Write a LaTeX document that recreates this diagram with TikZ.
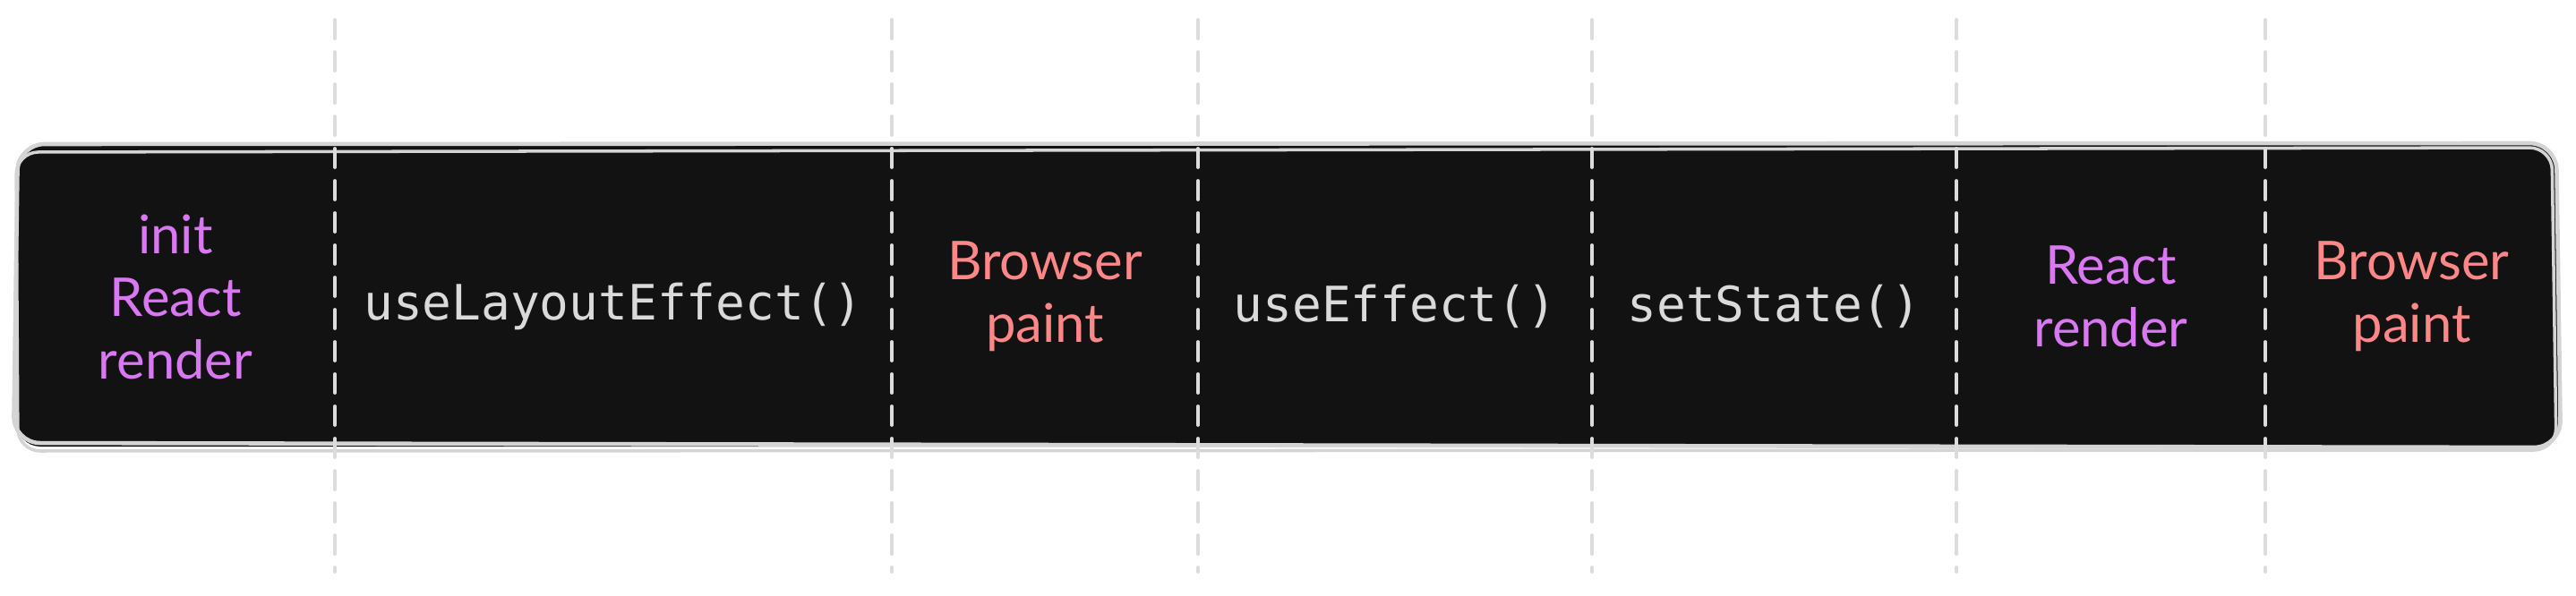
\documentclass[tikz,border=0pt]{standalone}
\usepackage{fontspec}
\setmainfont{Lato}
\setmonofont{DejaVu Sans Mono}
\definecolor{boxbg}{HTML}{121212}
\definecolor{rim}{HTML}{D4D4D4}
\definecolor{sep}{HTML}{DCDCDC}
\definecolor{violet}{HTML}{DA77F2}
\definecolor{coral}{HTML}{FF8787}
\definecolor{code}{HTML}{DADADA}
\tikzset{
  hand/.style={align=center,font=\fontsize{34}{40}\selectfont},
  react/.style={hand,text=violet},
  paint/.style={hand,text=coral},
  call/.style={text=code,font=\ttfamily\fontsize{31}{36}\selectfont},
  sepline/.style={sep,line width=2.2pt,dash pattern=on .42cm off .3cm,line cap=round}
}
\begin{document}
\begin{tikzpicture}
    \useasboundingbox (0,0) rectangle (57.54,13.3);
    \fill[boxbg,rounded corners=.55cm] (.36,3.32) rectangle (57.14,10.06);
    \draw[rim,line width=2.6pt,rounded corners=.6cm] (.3,3.4) -- (.4,10.08) -- (57.1,10.1) -- (57.2,3.3) -- cycle;
    \draw[rim,line width=2pt,rounded corners=.5cm] (.4,3.22) -- (.36,9.9) -- (57.0,10.0) -- (57.1,3.24) -- cycle;
    \foreach \x in {7.48,19.92,26.76,35.56,43.70,50.60}
    \draw[sepline] (\x,12.86) -- (\x,.52);
    \node[react] (init) at (3.92,6.66) {init\\React\\render};
    \node[call] (layout) at (13.70,6.45) {useLayoutEffect()};
    \node[paint] (paint1) at (23.34,6.68) {Browser\\paint};
    \node[call] (effect) at (31.16,6.45) {useEffect()};
    \node[call] (state) at (39.63,6.45) {setState()};
    \node[react] (render) at (47.15,6.68) {React\\render};
    \node[paint] (paint2) at (53.87,6.68) {Browser\\paint};
  \end{tikzpicture}
\end{document}
